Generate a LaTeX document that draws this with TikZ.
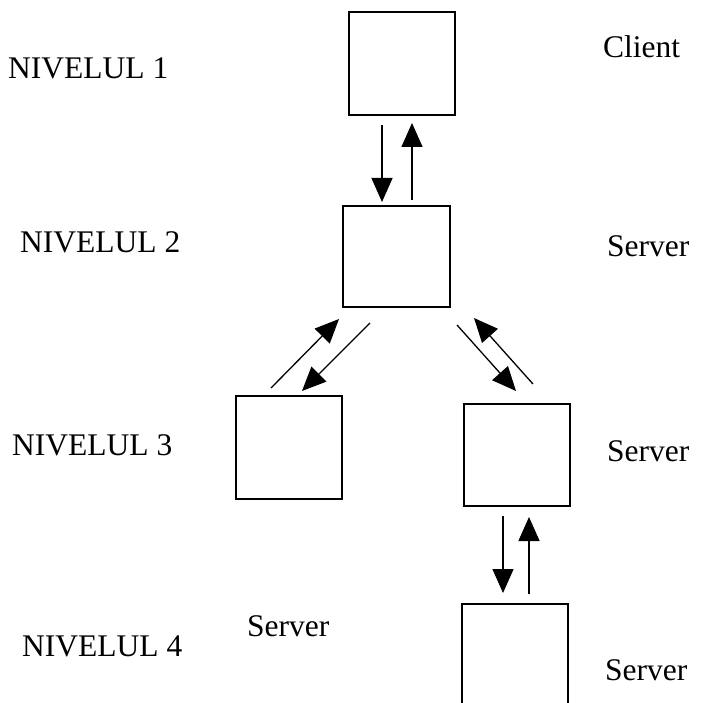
\documentclass[tikz,border=0pt]{standalone}
\usepackage{fontspec}
\setmainfont{Liberation Serif}
\usetikzlibrary{arrows.meta}
\begin{document}
\begin{tikzpicture}[x=1pt,y=-1pt,
  box/.style={draw, line width=1.4pt, inner sep=0pt, outer sep=0pt},
  lbl/.style={anchor=base west, inner sep=0pt, font=\fontsize{31.5}{36}\selectfont},
  link/.style={line width=1.3pt, -{Triangle[length=24pt,width=21pt]}}]
\useasboundingbox (0,0) rectangle (702,703);
% boxes
\node[box, minimum width=106pt, minimum height=103pt] (b1) at (402,63.5) {};
\node[box, minimum width=107pt, minimum height=101pt] (b2) at (396.5,256.5) {};
\node[box, minimum width=106pt, minimum height=103pt] (b3) at (289,447.5) {};
\node[box, minimum width=106pt, minimum height=102pt] (b4) at (517,455) {};
\draw[line width=1.4pt] (462,703) -- (462,604) coordinate (b5tl) -- (568,604) coordinate (b5tr) -- (568,703);
% arrow end points
\coordinate (p1s) at (382,125); \coordinate (p1e) at (382,202);
\coordinate (p2s) at (412,200); \coordinate (p2e) at (412,123);
\coordinate (p3s) at (271,388); \coordinate (p3e) at (339,319);
\coordinate (p4s) at (370,323); \coordinate (p4e) at (302,391);
\coordinate (p5s) at (457,325); \coordinate (p5e) at (516,391);
\coordinate (p6s) at (533,384); \coordinate (p6e) at (474,318);
\coordinate (p7s) at (503,516); \coordinate (p7e) at (503,593);
\coordinate (p8s) at (529,594); \coordinate (p8e) at (529,517);
\draw[link] (p1s) -- (p1e);
\draw[link] (p2s) -- (p2e);
\draw[link] (p3s) -- (p3e);
\draw[link] (p4s) -- (p4e);
\draw[link] (p5s) -- (p5e);
\draw[link] (p6s) -- (p6e);
\draw[link] (p7s) -- (p7e);
\draw[link] (p8s) -- (p8e);
% labels
\node[lbl] (n1) at (8,79) {NIVELUL 1};
\node[lbl] (n2) at (20,252) {NIVELUL 2};
\node[lbl] (n3) at (12,455) {NIVELUL 3};
\node[lbl] (n4) at (22,656) {NIVELUL 4};
\node[lbl] (c1) at (603,58) {Client};
\node[lbl] (s2) at (607,256) {Server};
\node[lbl] (s3) at (607,461) {Server};
\node[lbl] (s3l) at (247,636) {Server};
\node[lbl] (s4) at (605,680) {Server};
\end{tikzpicture}
\end{document}
